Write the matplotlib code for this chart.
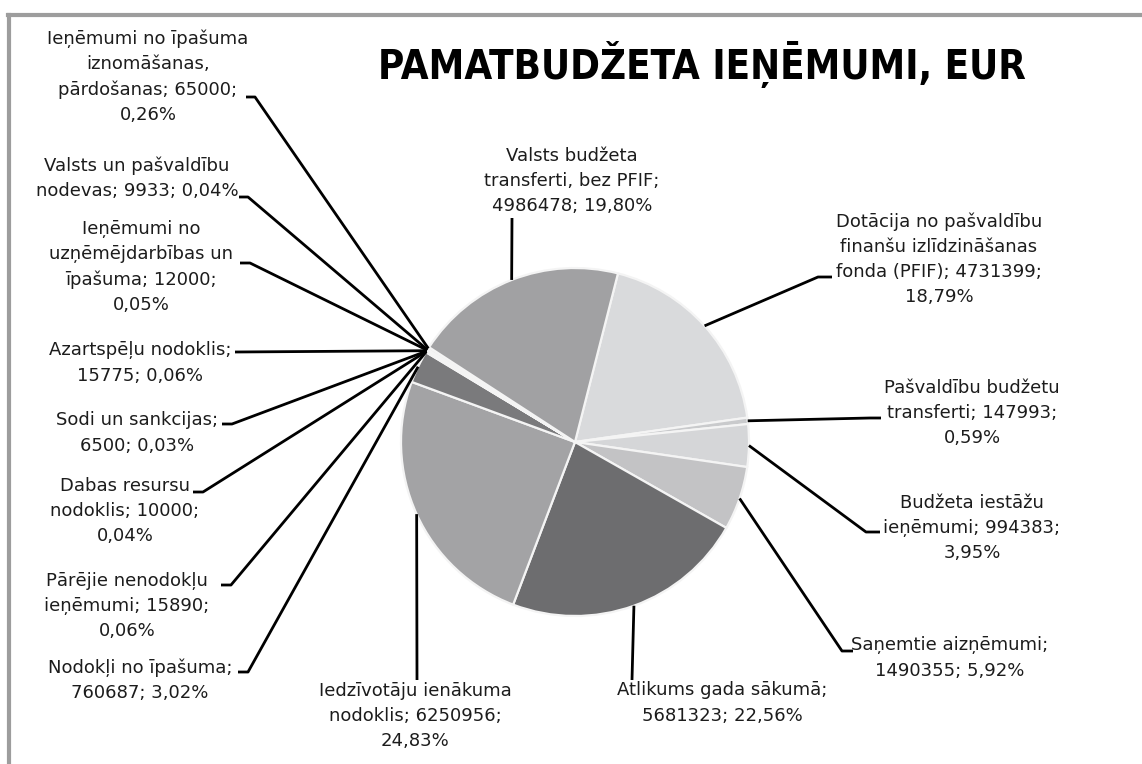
import numpy as np
import matplotlib
matplotlib.use("Agg")
import matplotlib.pyplot as plt

W, H = 1142, 764

# data, clockwise from the slice after "Valsts budžeta transferti"
labels = [
    "Dotācija no pašvaldību\nfinanšu izlīdzināšanas\nfonda (PFIF); 4731399;\n18,79%",
    "Pašvaldību budžetu\ntransferti; 147993;\n0,59%",
    "Budžeta iestāžu\nieņēmumi; 994383;\n3,95%",
    "Saņemtie aizņēmumi;\n1490355; 5,92%",
    "Atlikums gada sākumā;\n5681323; 22,56%",
    "Iedzīvotāju ienākuma\nnodoklis; 6250956;\n24,83%",
    "Nodokļi no īpašuma;\n760687; 3,02%",
    "Pārējie nenodokļu\nieņēmumi; 15890;\n0,06%",
    "Dabas resursu\nnodoklis; 10000;\n0,04%",
    "Sodi un sankcijas;\n6500; 0,03%",
    "Azartspēļu nodoklis;\n15775; 0,06%",
    "Ieņēmumi no\nuzņēmējdarbības un\nīpašuma; 12000;\n0,05%",
    "Valsts un pašvaldību\nnodevas; 9933; 0,04%",
    "Ieņēmumi no īpašuma\niznomāšanas,\npārdošanas; 65000;\n0,26%",
    "Valsts budžeta\ntransferti, bez PFIF;\n4986478; 19,80%",
]
values = [4731399, 147993, 994383, 1490355, 5681323, 6250956, 760687,
          15890, 10000, 6500, 15775, 12000, 9933, 65000, 4986478]
colors = ["#d9dadc", "#c9cacc", "#d5d6d8", "#c3c3c5", "#6d6d6f", "#a3a3a5",
          "#7a7a7c", "#e4e4e6", "#e4e4e6", "#e4e4e6", "#e4e4e6", "#e4e4e6",
          "#e4e4e6", "#eeeeee", "#a1a1a3"]

# label layout in pixels: text centre (x, y), elbow (x, y), tick end x
# elbow None -> straight line to (tick_x, tick_y)
layout = [
    ((939, 259), (818, 277), 832),
    ((972, 413), (870, 418), 881),
    ((972, 528), (866, 532), 880),
    ((950, 658), (842, 651), 853),
    ((722, 703), None, (632, 680)),
    ((415, 716), None, (417, 680)),
    ((140, 680), (248, 672), 238),
    ((127, 606), (231, 585), 221),
    ((125, 511), (203, 492), 193),
    ((137, 433), (232, 424), 222),
    ((140, 363), None, (235, 352)),
    ((141, 267), (250, 263), 240),
    ((137, 178), (248, 197), 239),
    ((148, 77), (255, 97), 246),
    ((572, 181), None, (512, 218)),
]

cx, cy, R = 575, 442, 174


def Y(py):
    return H - py


fig = plt.figure(figsize=(W / 100, H / 100), dpi=100)
ax = fig.add_axes([0, 0, 1, 1])

wedges, _ = ax.pie(values, colors=colors, startangle=75.7, counterclock=False,
                   center=(cx, Y(cy)), radius=R,
                   wedgeprops=dict(edgecolor="#f4f4f4", linewidth=1.6))
ax.set_xlim(0, W)
ax.set_ylim(0, H)
ax.set_aspect("equal")
ax.axis("off")

txt_kw = dict(fontsize=13, color="#1c1c1c", ha="center", va="center",
              linespacing=1.51, family="DejaVu Sans")

for w, lab, (tpos, elbow, end) in zip(wedges, labels, layout):
    mid = np.deg2rad((w.theta1 + w.theta2) / 2)
    ex, ey = w.center[0] + R * np.cos(mid), w.center[1] + R * np.sin(mid)
    if elbow is None:
        xs = [ex, end[0]]
        ys = [ey, Y(end[1])]
    else:
        xs = [ex, elbow[0], end]
        ys = [ey, Y(elbow[1]), Y(elbow[1])]
    ax.plot(xs, ys, color="black", lw=2, solid_capstyle="butt")
    ax.text(tpos[0], Y(tpos[1]), lab, **txt_kw)

ax.text(702, Y(65), "PAMATBUDŽETA IEŅĒMUMI, EUR", fontsize=28.8,
        fontweight="heavy", family="DejaVu Sans", fontstretch="condensed",
        ha="center", va="center", color="black")

# frame lines
ax.plot([8, W], [Y(15), Y(15)], color="#9d9d9d", lw=3)
ax.plot([9, 9], [Y(15), 0], color="#9d9d9d", lw=3)

fig.savefig("out.png", dpi=100, facecolor="white")
